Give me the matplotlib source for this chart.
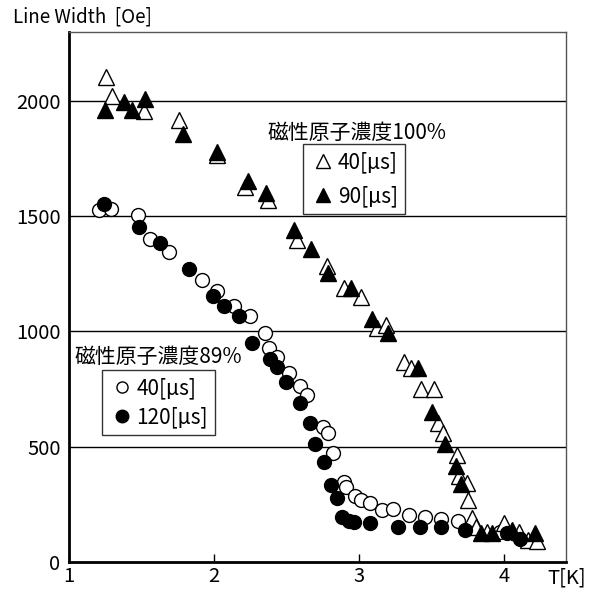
import matplotlib
matplotlib.use("Agg")
import matplotlib.pyplot as plt
from matplotlib.lines import Line2D

plt.rcParams['font.family'] = ['Noto Sans CJK JP', 'DejaVu Sans']

# 磁性原子濃度100% : 40us (open triangles), 90us (filled triangles)
t100_40 = [1.255, 1.294, 1.52, 1.757, 2.02, 2.216, 2.375, 2.577, 2.779, 2.899,
           3.014, 3.124, 3.186, 3.313, 3.359, 3.428, 3.52, 3.547, 3.581, 3.676,
           3.692, 3.745, 3.75, 3.784, 3.807, 3.887, 4.002, 4.106, 4.17, 4.228]
w100_40 = [2103, 2021, 1956, 1917, 1765, 1628, 1570, 1397, 1285, 1190,
           1151, 1016, 1028, 869, 840, 749, 749, 604, 558, 464,
           373, 344, 269, 190, 153, 131, 168, 131, 95, 92]

t100_90 = [1.25, 1.377, 1.432, 1.526, 1.786, 2.02, 2.239, 2.363, 2.554, 2.669,
           2.788, 2.945, 3.094, 3.204, 3.405, 3.508, 3.593, 3.669, 3.703, 3.841,
           3.921, 4.06, 4.214]
w100_90 = [1960, 1996, 1963, 2008, 1859, 1778, 1654, 1602, 1440, 1356,
           1252, 1190, 1053, 992, 840, 652, 512, 416, 338, 124,
           127, 139, 124]

# 磁性原子濃度89% : 40us (open circles), 120us (filled circles)
t89_40 = [1.205, 1.29, 1.474, 1.561, 1.692, 1.917, 2.02, 2.136, 2.251, 2.354,
          2.382, 2.434, 2.515, 2.593, 2.646, 2.752, 2.786, 2.825, 2.899, 2.915,
          2.972, 3.018, 3.078, 3.163, 3.237, 3.343, 3.457, 3.57, 3.685, 3.972]
w89_40 = [1527, 1530, 1505, 1400, 1346, 1223, 1177, 1110, 1067, 992,
          929, 890, 818, 765, 724, 587, 561, 471, 348, 324,
          286, 269, 255, 226, 230, 204, 194, 186, 175, 131]

t89_120 = [1.239, 1.483, 1.63, 1.83, 1.991, 2.071, 2.175, 2.262, 2.386, 2.434,
           2.497, 2.591, 2.662, 2.699, 2.761, 2.811, 2.852, 2.887, 2.933, 2.968,
           3.078, 3.267, 3.423, 3.566, 3.733, 4.025, 4.113]
w89_120 = [1553, 1454, 1382, 1271, 1154, 1110, 1067, 951, 879, 847,
           779, 688, 604, 512, 435, 333, 276, 194, 179, 172,
           170, 153, 153, 153, 136, 124, 98]

xticks = [1, 2, 3, 4]
yticks = [0, 500, 1000, 1500, 2000]

fig = plt.figure(figsize=(5.94, 5.92), dpi=100)
ax = fig.add_axes([0.116, 0.051, 0.837, 0.895])

for y in yticks[1:]:
    ax.axhline(y, color='black', lw=1.0, zorder=1)

ax.plot(t89_40, w89_40, 'o', ms=10, mfc='white', mec='black', mew=1.0, zorder=3)
ax.plot(t89_120, w89_120, 'o', ms=10, mfc='black', mec='black', mew=1.0, zorder=4)
ax.plot(t100_40, w100_40, '^', ms=11, mfc='white', mec='black', mew=1.0, zorder=3)
ax.plot(t100_90, w100_90, '^', ms=11, mfc='black', mec='black', mew=1.0, zorder=4)

ax.set_xlim(1, 4.43)
ax.set_ylim(0, 2300)
ax.set_xticks(xticks)
ax.set_yticks(yticks)
ax.tick_params(axis='x', direction='in', length=6, width=1, labelsize=14.5, pad=3)
ax.tick_params(axis='y', length=0, labelsize=14.5, pad=6)

for s in ['left', 'bottom']:
    ax.spines[s].set_linewidth(2)
for s in ['top', 'right']:
    ax.spines[s].set_linewidth(1)
    ax.spines[s].set_color('#555555')

fig.text(0.022, 0.971, 'Line Width  [Oe]', fontsize=13.5, va='center', ha='left')
fig.text(0.922, 0.024, 'T[K]', fontsize=14.5, va='center', ha='left')

ax.text(0.4, 0.81, '磁性原子濃度100%', transform=ax.transAxes, fontsize=15,
        ha='left', va='center')
ax.text(0.012, 0.386, '磁性原子濃度89%', transform=ax.transAxes, fontsize=15,
        ha='left', va='center')

h100 = [Line2D([], [], ls='', marker='^', ms=10, mfc='white', mec='black'),
        Line2D([], [], ls='', marker='^', ms=10, mfc='black', mec='black')]
leg1 = ax.legend(h100, ['40[μs]', '90[μs]'], loc='center', bbox_to_anchor=(0.574, 0.722),
                 frameon=True, fancybox=False, edgecolor='black', fontsize=15,
                 handlelength=1.2, handletextpad=0.1, borderpad=0.35, borderaxespad=0,
                 labelspacing=0.55)
leg1.get_frame().set_linewidth(1)
ax.add_artist(leg1)

h89 = [Line2D([], [], ls='', marker='o', ms=8, mfc='white', mec='black'),
       Line2D([], [], ls='', marker='o', ms=9, mfc='black', mec='black')]
leg2 = ax.legend(h89, ['40[μs]', '120[μs]'], loc='center', bbox_to_anchor=(0.18, 0.3),
                 frameon=True, fancybox=False, edgecolor='black', fontsize=15,
                 handlelength=1.2, handletextpad=0.1, borderpad=0.35, borderaxespad=0,
                 labelspacing=0.3)
leg2.get_frame().set_linewidth(1)

fig.savefig('out.png', dpi=100)
